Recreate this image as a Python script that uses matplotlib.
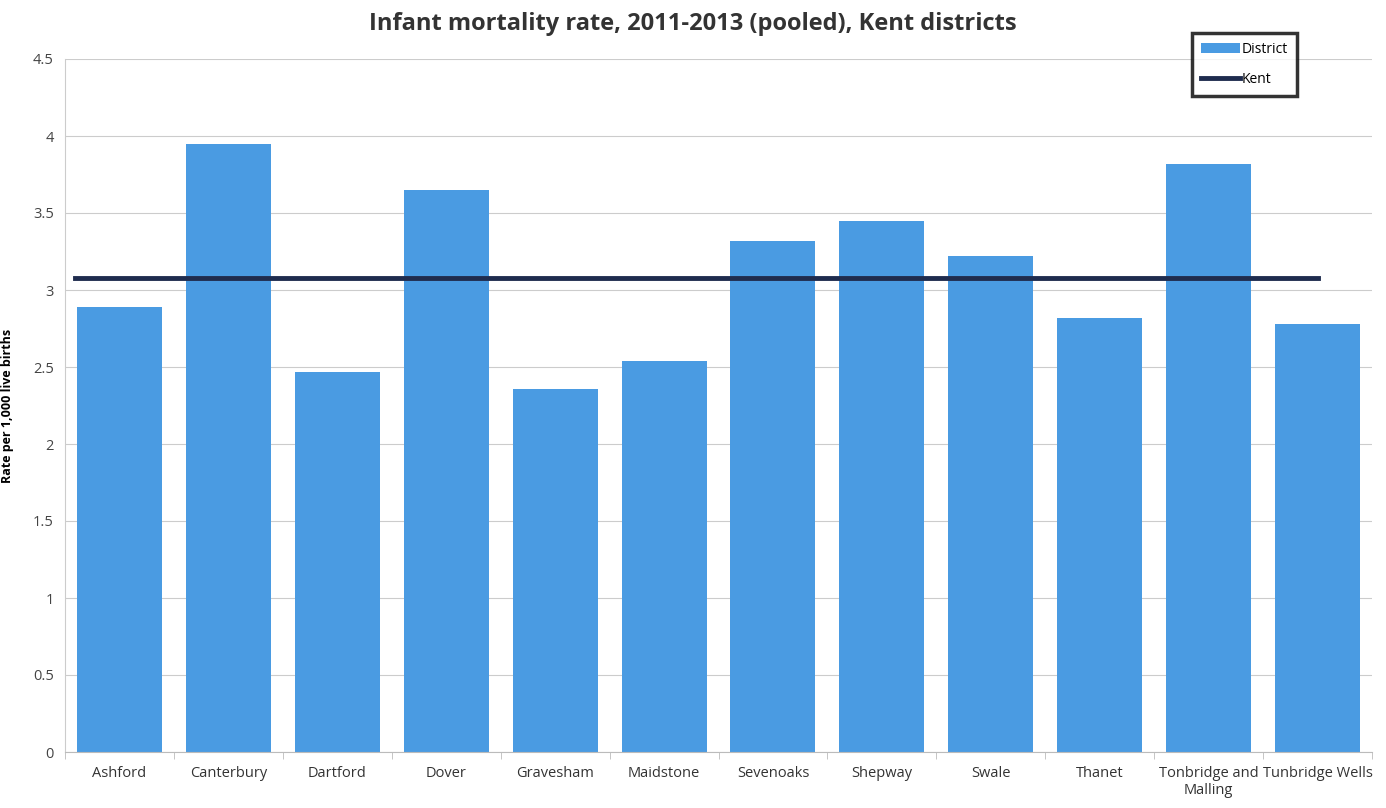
import numpy as np
import matplotlib
matplotlib.use("Agg")
import matplotlib.pyplot as plt

districts = ["Ashford", "Canterbury", "Dartford", "Dover", "Gravesham", "Maidstone",
             "Sevenoaks", "Shepway", "Swale", "Thanet", "Tonbridge and\nMalling",
             "Tunbridge Wells"]
rates = [2.89, 3.95, 2.47, 3.65, 2.36, 2.54, 3.32, 3.45, 3.22, 2.82, 3.82, 2.78]
kent_rate = 3.08

plt.rcParams['font.family'] = ['Open Sans', 'DejaVu Sans']

fig = plt.figure(figsize=(13.86, 8.08), dpi=100)
ax = fig.add_axes([65/1386, 1 - 752/808, (1372-65)/1386, (752-59)/808])

x = np.arange(len(districts))
bars = ax.bar(x, rates, width=0.78, color="#4a9be2", label="District", zorder=2)
kx = [x[0] - 0.41, x[-1]]
line, = ax.plot(kx, [kent_rate, kent_rate], color="#1f2c4e", lw=3.5, label="Kent", zorder=3)

ax.set_xlim(-0.5, len(districts) - 0.5)
ax.set_ylim(0, 4.5)
ax.set_yticks(np.arange(0, 4.6, 0.5))
ax.set_yticklabels(["0", "0.5", "1", "1.5", "2", "2.5", "3", "3.5", "4", "4.5"])
ax.set_xticks(x)
ax.set_xticklabels(districts, fontsize=10.5, color="#333333", multialignment="center")
ax.tick_params(axis="y", labelsize=10.5, colors="#444444", length=0, pad=8)
ax.tick_params(axis="x", length=0, pad=10)
ax.set_xticks(np.arange(-0.5, len(districts), 1), minor=True)
ax.tick_params(axis="x", which="minor", length=5, color="#bbbbbb")

ax.grid(axis="y", color="#cccccc", lw=0.8, zorder=0)
for s in ["top", "right"]:
    ax.spines[s].set_visible(False)
ax.spines["left"].set_color("#cccccc")
ax.spines["bottom"].set_color("#bbbbbb")

ax.set_ylabel("Rate per 1,000 live births", fontsize=9, fontweight="bold", labelpad=14)
fig.suptitle("Infant mortality rate, 2011-2013 (pooled), Kent districts",
             fontsize=17, fontweight="bold", color="#333333", y=0.985)

leg = ax.legend([bars, line], ["District", "Kent"], loc="upper right",
                bbox_to_anchor=(1297/1386, 1 - 33/808), bbox_transform=fig.transFigure,
                fontsize=10, frameon=True, fancybox=False, handlelength=2.8,
                handletextpad=0.1, borderpad=0.65, labelspacing=1.1, borderaxespad=0)
leg.get_frame().set_edgecolor("black")
leg.get_frame().set_linewidth(2.5)

fig.savefig("out.png", dpi=100)
